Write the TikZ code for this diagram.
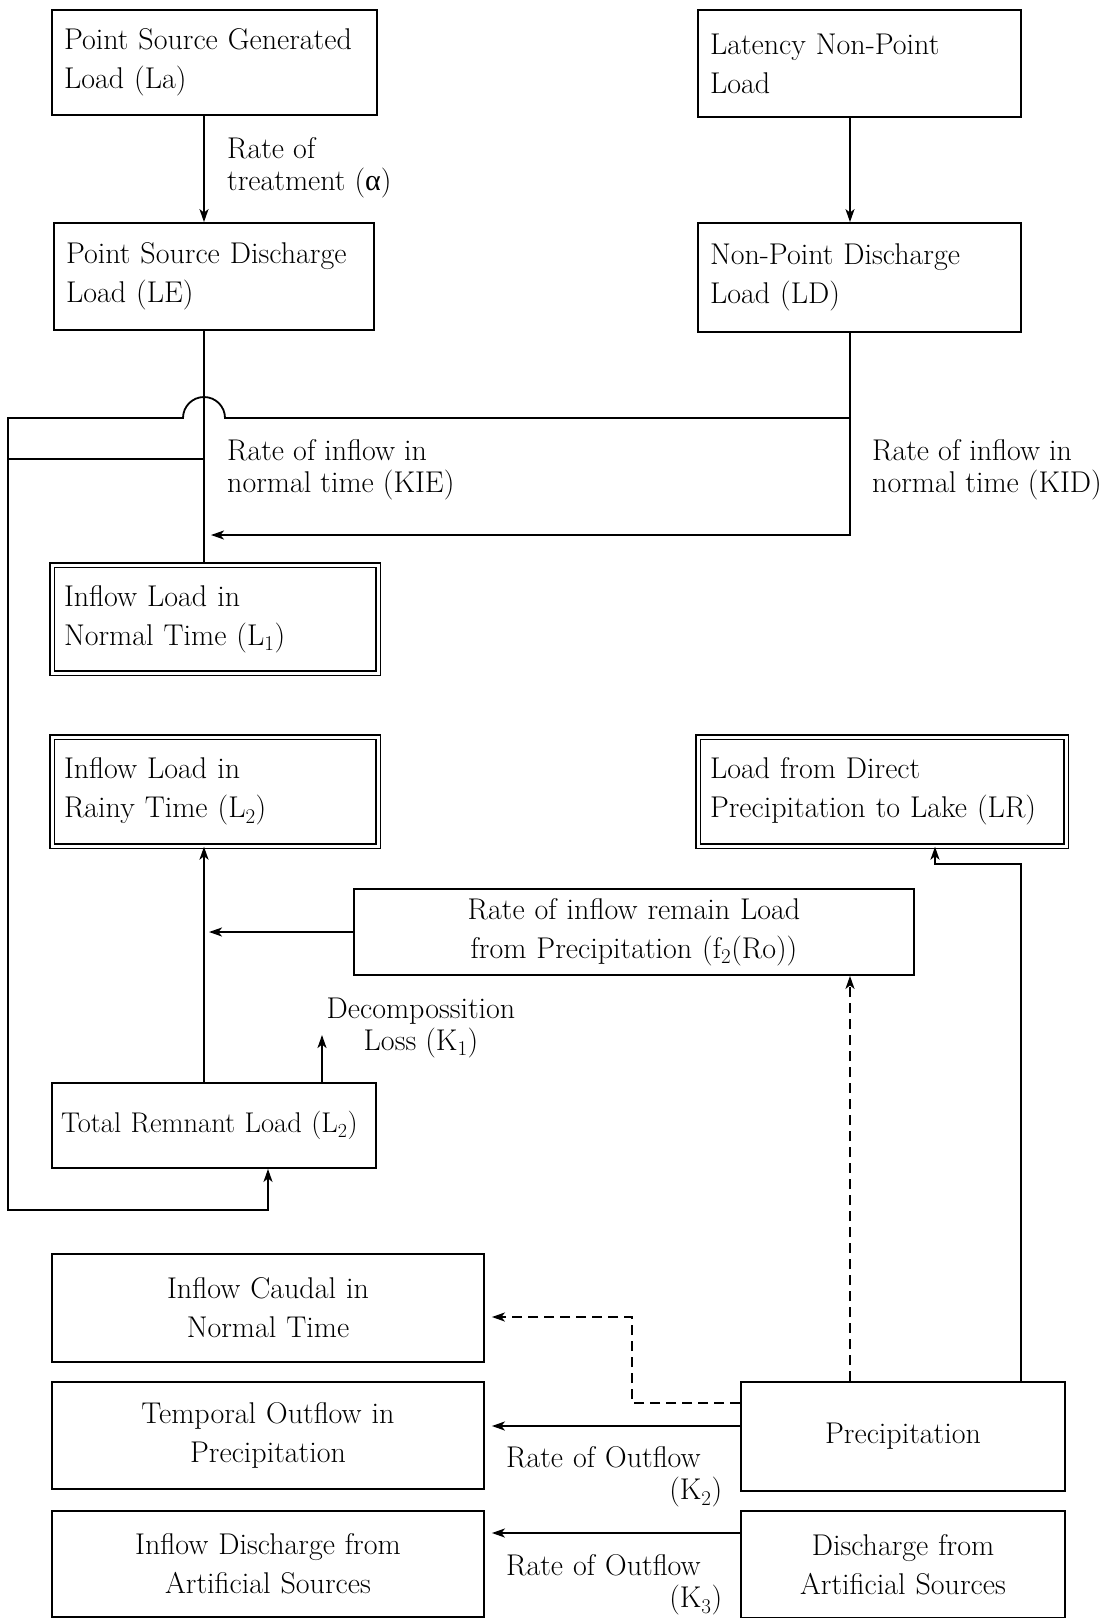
\documentclass[tikz,border=0pt]{standalone}
\usepackage{fontspec}
\newfontfamily\grk{Liberation Serif}
\usetikzlibrary{arrows.meta}
\tikzset{
  box/.style={draw, line width=1.8pt, rectangle, inner xsep=12pt, inner ysep=0pt,
    font=\fontsize{30}{39}\selectfont},
  lbox/.style={box, align=left},
  cbox/.style={box, align=center},
  dbox/.style={lbox, double, double distance=3pt, line width=1.4pt},
  lbl/.style={font=\fontsize{30}{32}\selectfont, inner sep=0pt},
  conn/.style={line width=1.8pt},
  arr/.style={conn, -{Stealth[length=13pt,width=9pt,inset=3.5pt]}},
  dsh/.style={dash pattern=on 10pt off 6pt}
}
\begin{document}
\begin{tikzpicture}[x=1pt,y=-1pt]
\fill[white] (0,0) rectangle (1108,1618);
\useasboundingbox (0,0) rectangle (1108,1618);

% boxes
\node[lbox, minimum width=325pt, minimum height=105pt, text width=301pt] (psg) at (214.5,62.5) {Point Source Generated\\Load (La)};
\node[lbox, minimum width=323pt, minimum height=107pt, text width=299pt] (lnp) at (859.5,63.5) {Latency Non-Point\\Load};
\node[lbox, minimum width=320pt, minimum height=107pt, text width=296pt] (psd) at (214,276.5) {Point Source Discharge\\Load (LE)};
\node[lbox, minimum width=323pt, minimum height=109pt, text width=299pt] (npd) at (859.5,277.5) {Non-Point Discharge\\Load (LD)};
\node[dbox, minimum width=326pt, minimum height=108pt, text width=302pt] (l1) at (215,619) {Inflow Load in\\Normal Time (L\textsubscript{1})};
\node[dbox, minimum width=326pt, minimum height=109pt, text width=302pt] (l2) at (215,791.5) {Inflow Load in\\Rainy Time (L\textsubscript{2})};
\node[dbox, minimum width=368pt, minimum height=109pt, text width=344pt] (lr) at (882,791.5) {Load from Direct\\Precipitation to Lake (LR)};
\node[cbox, minimum width=560pt, minimum height=86pt, text width=536pt] (rir) at (634,932) {Rate of inflow remain Load\\from Precipitation (f\textsubscript{2}(Ro))};
\node[lbox, minimum width=324pt, minimum height=85pt, text width=306pt, inner xsep=9pt, font=\fontsize{28.5}{39}\selectfont] (trl) at (214,1125.5) {Total Remnant Load (L\textsubscript{2})};
\node[cbox, minimum width=432pt, minimum height=108pt, text width=408pt] (ic) at (268,1308) {Inflow Caudal in\\Normal Time};
\node[cbox, minimum width=432pt, minimum height=107pt, text width=408pt] (to) at (268,1435.5) {Temporal Outflow in\\Precipitation};
\node[cbox, minimum width=432pt, minimum height=106pt, text width=408pt] (id) at (268,1564) {Inflow Discharge from\\Artificial Sources};
\node[cbox, minimum width=324pt, minimum height=109pt, text width=300pt] (pr) at (903,1436.5) {Precipitation};
\node[cbox, minimum width=324pt, minimum height=107pt, text width=300pt] (da) at (903,1564.5) {Discharge from\\Artificial Sources};

% labels
\node[lbl, anchor=west, align=left] (ltr) at (227,168) {Rate of\\treatment ({\grk α})};
\node[lbl, anchor=west, align=left] (lkie) at (227,470) {Rate of inflow in\\normal time (KIE)};
\node[lbl, anchor=west, align=left] (lkid) at (872,470) {Rate of inflow in\\normal time (KID)};
\node[lbl, align=center] (ldec) at (421,1028) {Decompossition\\Loss (K\textsubscript{1})};
\node[lbl, anchor=west, align=left, text width=216pt] (lk2) at (506,1477) {Rate of Outflow\\\hfill(K\textsubscript{2})};
\node[lbl, anchor=west, align=left, text width=216pt] (lk3) at (506,1585) {Rate of Outflow\\\hfill(K\textsubscript{3})};

% column / row coordinates
\coordinate (xA) at (204,0);
\coordinate (xB) at (850,0);
\coordinate (xD) at (322,0);
\coordinate (xT) at (268,0);
\coordinate (xE) at (1021,0);
\coordinate (xF) at (935,0);
\coordinate (j1) at (850,418);
\coordinate (j2) at (204,459);
\coordinate (kieTip) at (211,535);
\coordinate (decTip) at (322,1035);
\coordinate (rirTip) at (209,932);
\coordinate (yP1) at (0,1403);
\coordinate (cDash) at (632,1317);
\coordinate (yP3) at (0,1426);
\coordinate (yP4) at (0,1533);

% connectors
\draw[arr] (psg.south -| xA) -- (psd.north -| xA);
\draw[arr] (lnp.south -| xB) -- (npd.north -| xB);
\draw[conn] (psd.south -| xA) -- (l1.north -| xA);
\draw[arr] (npd.south -| xB) |- (kieTip);
\draw[arr] (j1) -- (225,418) arc[start angle=0, end angle=-180, radius=21] -- (8,418) -- (8,1210) -| (trl.south -| xT);
\draw[conn] (j2) -- (8,459);
\draw[arr] (trl.north -| xA) -- (l2.south -| xA);
\draw[arr] (trl.north -| xD) -- (decTip);
\draw[arr] (rir.west) -- (rirTip);
\draw[arr] (pr.north -| xE) -- ++(0,-517) -| (lr.south -| xF);
\draw[arr, dsh] (pr.north -| xB) -- (rir.south -| xB);
\draw[arr, dsh, shorten >=7pt] (pr.west |- yP1) -| (cDash) -- (cDash -| ic.east);
\draw[arr, shorten >=7pt] (pr.west |- yP3) -- (yP3 -| to.east);
\draw[arr, shorten >=7pt] (da.west |- yP4) -- (yP4 -| id.east);
\end{tikzpicture}
\end{document}
